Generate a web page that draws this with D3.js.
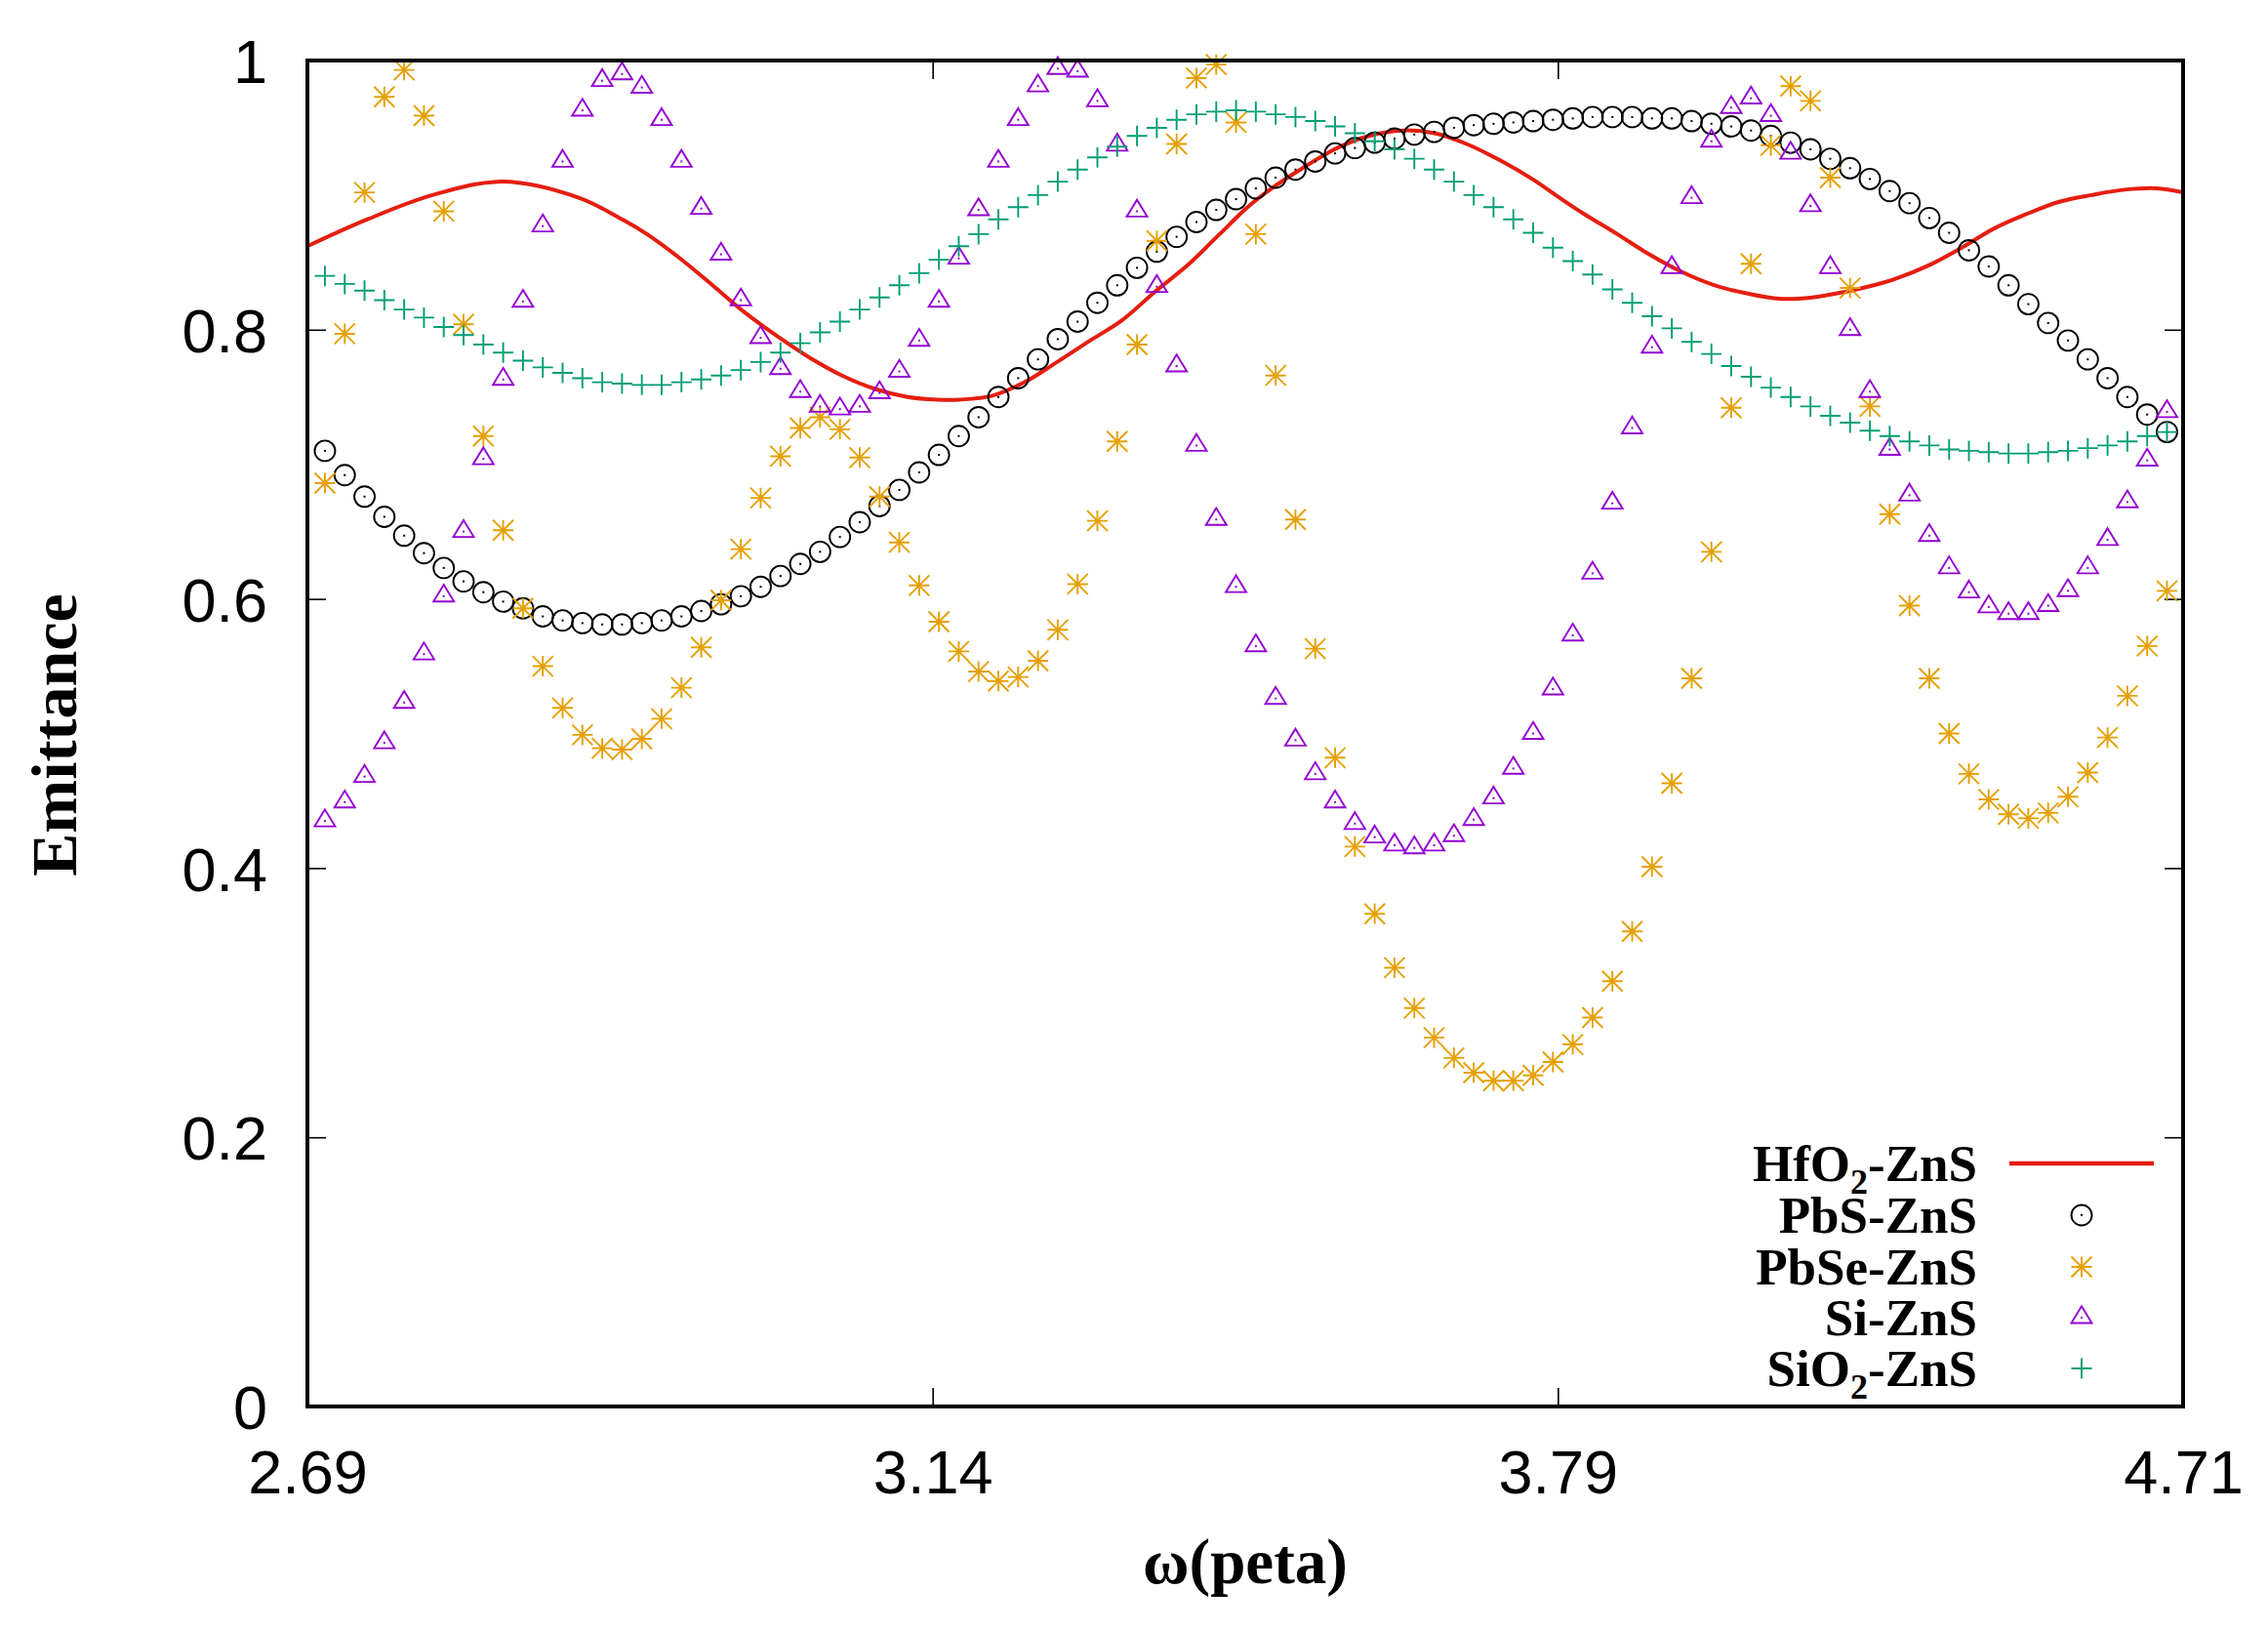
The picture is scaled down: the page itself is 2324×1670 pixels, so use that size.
<!DOCTYPE html>
<html>
<head>
<meta charset="utf-8">
<script src="https://cdn.jsdelivr.net/npm/d3@7"></script>
<style>
  body { margin: 0; background: #fff; }
  svg { display: block; }
</style>
</head>
<body>
<svg width="2324" height="1670"></svg>
<script>
// points were sampled on an even wavelength grid (nm); the axis is labelled in omega
let lambda = d3.range(94).map(i => 697.2 - 3.168 * i);

let xTicks = [700, 600, 500, 400];
let xTickLabels = ['2.69', '3.14', '3.79', '4.71'];
let yTicks = [0, 0.2, 0.4, 0.6, 0.8, 1];

let hfo2Lambda = [700, 690.4, 680.0, 668.8, 656.6, 649.3, 645.7, 640.4, 635.2, 630.1,
    624.8, 619.6, 614.5, 609.2, 604.0, 599.3, 595.7, 590.4, 585.3, 580.1,
    574.8, 569.7, 564.5, 559.2, 554.1, 549.4, 545.8, 540.5, 535.3, 530.2,
    524.9, 519.7, 514.6, 509.3, 504.1, 499.4, 495.8, 490.5, 485.4, 480.2,
    474.9, 469.8, 464.6, 459.3, 454.2, 449.5, 445.9, 440.6, 435.4, 430.3,
    425.0, 419.8, 414.7, 409.4, 404.2, 400.0];
let hfo2 = [0.862, 0.882, 0.900, 0.910, 0.898, 0.881, 0.871, 0.853, 0.833, 0.813,
    0.795, 0.779, 0.766, 0.756, 0.750, 0.748, 0.748, 0.751, 0.761, 0.776,
    0.792, 0.807, 0.828, 0.848, 0.871, 0.892, 0.905, 0.921, 0.935, 0.944,
    0.948, 0.946, 0.938, 0.926, 0.912, 0.897, 0.886, 0.871, 0.856, 0.843,
    0.833, 0.827, 0.823, 0.824, 0.828, 0.833, 0.838, 0.848, 0.861, 0.875,
    0.886, 0.895, 0.900, 0.904, 0.905, 0.902];

let pbs = [0.710, 0.692, 0.676, 0.661, 0.647, 0.634, 0.623, 0.613, 0.605, 0.598,
    0.593, 0.587, 0.584, 0.582, 0.581, 0.581, 0.582, 0.584, 0.587, 0.591,
    0.596, 0.602, 0.609, 0.617, 0.626, 0.635, 0.646, 0.657, 0.669, 0.681,
    0.694, 0.707, 0.721, 0.735, 0.750, 0.764, 0.778, 0.793, 0.806, 0.820,
    0.833, 0.846, 0.858, 0.869, 0.880, 0.889, 0.897, 0.905, 0.913, 0.919,
    0.925, 0.931, 0.935, 0.939, 0.942, 0.945, 0.947, 0.950, 0.952, 0.953,
    0.954, 0.955, 0.956, 0.957, 0.958, 0.958, 0.958, 0.957, 0.957, 0.955,
    0.953, 0.951, 0.948, 0.944, 0.939, 0.934, 0.927, 0.920, 0.912, 0.903,
    0.894, 0.883, 0.872, 0.859, 0.847, 0.833, 0.819, 0.805, 0.792, 0.778,
    0.764, 0.750, 0.737, 0.724];

let pbse = [0.686, 0.797, 0.902, 0.973, 0.993, 0.959, 0.888, 0.804, 0.721, 0.651,
    0.593, 0.550, 0.519, 0.499, 0.489, 0.488, 0.496, 0.511, 0.534, 0.564,
    0.599, 0.637, 0.675, 0.706, 0.727, 0.735, 0.726, 0.705, 0.676, 0.642,
    0.610, 0.583, 0.561, 0.546, 0.539, 0.542, 0.554, 0.577, 0.611, 0.658,
    0.717, 0.789, 0.866, 0.938, 0.987, 0.997, 0.954, 0.871, 0.766, 0.659,
    0.563, 0.482, 0.416, 0.366, 0.326, 0.296, 0.274, 0.259, 0.248, 0.242,
    0.242, 0.246, 0.256, 0.269, 0.289, 0.316, 0.353, 0.401, 0.463, 0.541,
    0.635, 0.742, 0.849, 0.937, 0.981, 0.970, 0.913, 0.831, 0.743, 0.663,
    0.595, 0.541, 0.500, 0.470, 0.451, 0.440, 0.437, 0.441, 0.453, 0.471,
    0.497, 0.528, 0.565, 0.606];

let si = [0.435, 0.449, 0.468, 0.493, 0.523, 0.559, 0.602, 0.650, 0.704, 0.763,
    0.821, 0.877, 0.925, 0.963, 0.985, 0.990, 0.980, 0.956, 0.925, 0.890,
    0.856, 0.822, 0.794, 0.771, 0.754, 0.743, 0.741, 0.743, 0.753, 0.769,
    0.792, 0.821, 0.853, 0.889, 0.925, 0.956, 0.981, 0.994, 0.992, 0.970,
    0.937, 0.888, 0.832, 0.773, 0.714, 0.659, 0.609, 0.565, 0.526, 0.495,
    0.470, 0.449, 0.433, 0.423, 0.417, 0.415, 0.417, 0.424, 0.436, 0.452,
    0.474, 0.500, 0.533, 0.573, 0.619, 0.671, 0.727, 0.787, 0.846, 0.898,
    0.940, 0.965, 0.972, 0.959, 0.931, 0.892, 0.846, 0.800, 0.754, 0.711,
    0.677, 0.647, 0.623, 0.605, 0.594, 0.589, 0.589, 0.595, 0.606, 0.623,
    0.644, 0.672, 0.703, 0.739];

let sio2 = [0.840, 0.834, 0.829, 0.822, 0.815, 0.809, 0.802, 0.796, 0.789, 0.783,
    0.777, 0.772, 0.768, 0.764, 0.761, 0.760, 0.759, 0.759, 0.761, 0.763,
    0.766, 0.770, 0.776, 0.783, 0.790, 0.798, 0.806, 0.815, 0.824, 0.833,
    0.842, 0.852, 0.862, 0.871, 0.882, 0.891, 0.900, 0.910, 0.919, 0.928,
    0.936, 0.944, 0.950, 0.956, 0.960, 0.962, 0.963, 0.962, 0.960, 0.958,
    0.955, 0.951, 0.946, 0.940, 0.934, 0.927, 0.919, 0.910, 0.900, 0.891,
    0.882, 0.872, 0.861, 0.851, 0.841, 0.830, 0.820, 0.810, 0.801, 0.791,
    0.782, 0.773, 0.765, 0.757, 0.750, 0.743, 0.736, 0.731, 0.725, 0.721,
    0.717, 0.714, 0.711, 0.710, 0.709, 0.708, 0.708, 0.709, 0.710, 0.712,
    0.714, 0.717, 0.721, 0.724];

let svg = d3.select('svg');
let plotLeft = 315, plotRight = 2237, plotTop = 62, plotBottom = 1441;

let x = d3.scaleLinear()
    .domain([700, 400])
    .range([plotLeft, plotRight]);

let y = d3.scaleLinear()
    .domain([0, 1])
    .range([plotBottom, plotTop]);

let sans = 'Liberation Sans, Helvetica, Arial, sans-serif';
let serif = 'Liberation Serif, Times New Roman, serif';

// gnuplot-style point shapes, size in px
let s = 10.5;
let shapes = {
    circle: `M${s},0A${s},${s} 0 1,1 ${-s},0A${s},${s} 0 1,1 ${s},0Z`,
    star: `M${-s},0H${s}M0,${-s}V${s}M${-s},${-s}L${s},${s}M${-s},${s}L${s},${-s}`,
    triangle: `M0,${-1.12 * s}L${s},${0.52 * s}H${-s}Z`,
    plus: `M${-s},0H${s}M0,${-s}V${s}`
};
let markStroke = 1.9;

let series = [
    {name: ['PbS-ZnS'], values: pbs, color: '#000000', shape: 'circle', dot: true},
    {name: ['PbSe-ZnS'], values: pbse, color: '#e69f00', shape: 'star', dot: false},
    {name: ['Si-ZnS'], values: si, color: '#9400d3', shape: 'triangle', dot: true},
    {name: ['SiO', '2', '-ZnS'], values: sio2, color: '#009e73', shape: 'plus', dot: false}
];
let lineColor = '#e51e10';

svg.append('clipPath').attr('id', 'plot-clip')
    .append('rect')
    .attr('x', plotLeft).attr('y', plotTop)
    .attr('width', plotRight - plotLeft).attr('height', plotBottom - plotTop);

// ticks on all four sides, pointing inward
let tickLen = 19;
let gAxes = svg.append('g');

let yAxis = gAxes.append('g')
    .attr('transform', `translate(${plotLeft},0)`)
    .call(d3.axisLeft(y).tickValues(yTicks).tickFormat(d3.format('~g'))
        .tickSize(-tickLen).tickPadding(41));
let xAxis = gAxes.append('g')
    .attr('transform', `translate(0,${plotBottom})`)
    .call(d3.axisBottom(x).tickValues(xTicks).tickFormat((d, i) => xTickLabels[i])
        .tickSize(-tickLen).tickPadding(44));
gAxes.append('g')
    .attr('transform', `translate(${plotRight},0)`)
    .call(d3.axisRight(y).tickValues(yTicks).tickFormat('').tickSize(-tickLen));
gAxes.append('g')
    .attr('transform', `translate(0,${plotTop})`)
    .call(d3.axisTop(x).tickValues(xTicks).tickFormat('').tickSize(-tickLen));

gAxes.selectAll('.domain').remove();
gAxes.selectAll('.tick line').attr('stroke', '#000').attr('stroke-width', 1.6);
gAxes.selectAll('.tick text')
    .attr('fill', '#000')
    .style('font-family', sans)
    .style('font-size', '63px');
yAxis.selectAll('.tick text').attr('dy', '0.36em');
xAxis.selectAll('.tick text').attr('dy', '0.71em');

// HfO2-ZnS curve
let line = d3.line()
    .x(d => x(d[0]))
    .y(d => y(d[1]))
    .curve(d3.curveCatmullRom);

svg.append('path')
    .datum(hfo2Lambda.map((l, i) => [l, hfo2[i]]))
    .attr('clip-path', 'url(#plot-clip)')
    .attr('d', line)
    .attr('fill', 'none')
    .attr('stroke', lineColor)
    .attr('stroke-width', 4);

// point series
series.forEach(function (sr) {
    let g = svg.append('g');
    let pts = g.selectAll('g').data(sr.values.map((v, i) => [lambda[i], v]))
        .enter().append('g')
        .attr('transform', d => `translate(${x(d[0])},${y(d[1])})`);

    pts.append('path')
        .attr('d', shapes[sr.shape])
        .attr('fill', 'none')
        .attr('stroke', sr.color)
        .attr('stroke-width', markStroke);

    if (sr.dot) {
        pts.append('rect')
            .attr('x', -1).attr('y', -1)
            .attr('width', 2).attr('height', 2)
            .attr('fill', sr.color);
    }
});

// plot border on top
svg.append('rect')
    .attr('x', plotLeft).attr('y', plotTop)
    .attr('width', plotRight - plotLeft).attr('height', plotBottom - plotTop)
    .attr('fill', 'none')
    .attr('stroke', '#000')
    .attr('stroke-width', 4);

// axis titles
svg.append('text')
    .attr('transform', 'translate(78,753) rotate(-90)')
    .attr('text-anchor', 'middle')
    .style('font-family', serif)
    .style('font-weight', 'bold')
    .style('font-size', '66px')
    .text('Emittance');

svg.append('text')
    .attr('x', (plotLeft + plotRight) / 2)
    .attr('y', 1622)
    .attr('text-anchor', 'middle')
    .style('font-family', serif)
    .style('font-weight', 'bold')
    .style('font-size', '65px')
    .text('ω(peta)');

// legend
let legendEntries = [{name: ['HfO', '2', '-ZnS'], line: true, color: lineColor}].concat(series);
let legendY = [1192, 1245, 1298, 1350, 1402];
let legendTextX = 2026;
let legendKeyX = 2133;

let gLegend = svg.append('g');
legendEntries.forEach(function (e, i) {
    let ly = legendY[i];
    let t = gLegend.append('text')
        .attr('x', legendTextX)
        .attr('y', ly + 18)
        .attr('text-anchor', 'end')
        .style('font-family', serif)
        .style('font-weight', 'bold')
        .style('font-size', '53px');

    t.append('tspan').text(e.name[0]);
    if (e.name.length > 1) {
        t.append('tspan').attr('dy', 13).style('font-size', '36px').text(e.name[1]);
        t.append('tspan').attr('dy', -13).text(e.name[2]);
    }

    if (e.line) {
        gLegend.append('line')
            .attr('x1', 2059).attr('x2', 2207)
            .attr('y1', ly).attr('y2', ly)
            .attr('stroke', e.color)
            .attr('stroke-width', 4.5);
    } else {
        let k = gLegend.append('g').attr('transform', `translate(${legendKeyX},${ly})`);
        k.append('path')
            .attr('d', shapes[e.shape])
            .attr('fill', 'none')
            .attr('stroke', e.color)
            .attr('stroke-width', markStroke);
        if (e.dot) {
            k.append('rect')
                .attr('x', -1).attr('y', -1)
                .attr('width', 2).attr('height', 2)
                .attr('fill', e.color);
        }
    }
});
</script>
</body>
</html>
